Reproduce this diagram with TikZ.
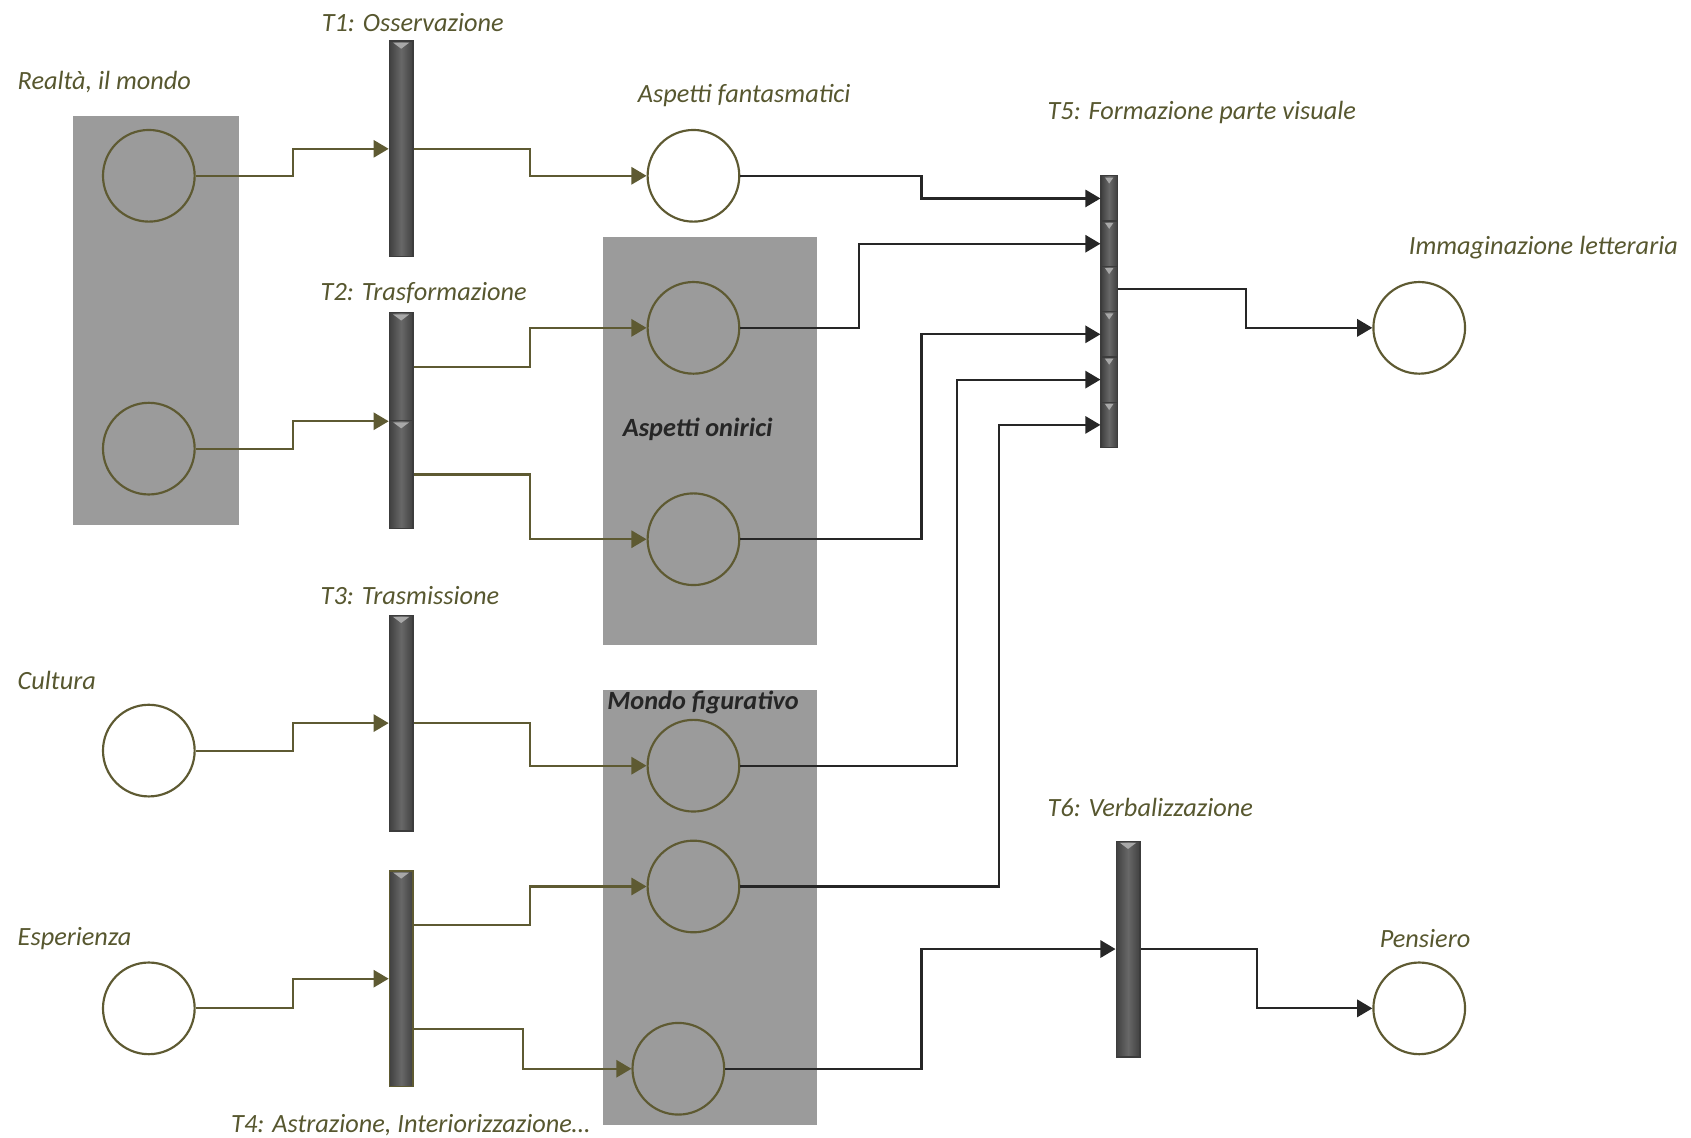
\documentclass[tikz,border=0pt]{standalone}
\usepackage{fontspec}
\setmainfont{Carlito}
\usepackage{xcolor}
\usepackage{tikz}
\usetikzlibrary{positioning,arrows.meta}
\definecolor{PNolive}{HTML}{5E5A32}
\definecolor{PNtext}{HTML}{57572F}
\definecolor{PNink}{HTML}{262626}
\definecolor{PNgray}{HTML}{9B9B9B}
\definecolor{PNbardark}{HTML}{404040}
\definecolor{PNbarmid}{HTML}{686868}
\definecolor{PNbarhi}{HTML}{A8A8A8}
\tikzset{
  place/.style={circle,draw=PNolive,line width=1pt,minimum size=42.5pt,inner sep=0pt},
  trans/.style={rectangle,draw=PNink!90,line width=0.6pt,minimum width=11pt,inner sep=0pt,
    left color=PNbardark,right color=PNbardark,middle color=PNbarmid,
    path picture={\fill[PNbarhi] ([xshift=1.8pt,yshift=-0.8pt]path picture bounding box.north west)
      -- ([xshift=-1.8pt,yshift=-0.8pt]path picture bounding box.north east)
      -- ([yshift=-3.6pt]path picture bounding box.north) -- cycle;}},
  tseg/.style={trans,minimum width=7.5pt,minimum height=21pt},
  grp/.style={fill=PNgray},
  lbl/.style={anchor=west,inner sep=0pt,text=PNtext,font=\itshape\fontsize{12.2}{14}\selectfont},
  grplbl/.style={inner sep=0pt,text=PNink,font=\bfseries\itshape\fontsize{12.2}{14}\selectfont},
  oarr/.style={draw=PNolive,line width=1pt,-{Triangle[length=7pt,width=8pt]}},
  karr/.style={draw=PNink,line width=1pt,-{Triangle[length=7pt,width=8pt]}}
}
\begin{document}
\begin{tikzpicture}[x=0.5pt,y=-0.5pt]
\useasboundingbox (0,0) rectangle (1568,1055);
\fill[grp] (68,108) rectangle (222,487);
\fill[grp] (559,220) rectangle (758,598);
\fill[grp] (559,640) rectangle (758,1043);

\node[place] (r1) at (138,163) {};
\node[place] (r2) at (138,416) {};
\node[place] (cu) at (138,696) {};
\node[place] (es) at (138,935) {};
\node[place] (af) at (643,163) {};
\node[place] (on1) at (643,304) {};
\node[place] (on2) at (643,500) {};
\node[place] (fg1) at (643,710) {};
\node[place] (fg2) at (643,822) {};
\node[place] (fg3) at (629,991) {};
\node[place,fill=white] (im) at (1316,304) {};
\node[place,fill=white] (pe) at (1316,935) {};

\node[trans,minimum height=100pt] (t1) at (372,138) {};
\node[trans,minimum height=50pt] (t2a) at (372,340) {};
\node[trans,minimum height=50pt] (t2b) at (372,440) {};
\node[trans,minimum height=100pt] (t3) at (372,670.5) {};
\node[trans,minimum height=100pt,draw=PNolive] (t4) at (372,907.5) {};
\node[tseg] (t5a) at (1028.5,184) {};
\node[tseg] (t5b) at (1028.5,226) {};
\node[tseg] (t5c) at (1028.5,268) {};
\node[tseg] (t5d) at (1028.5,310) {};
\node[tseg] (t5e) at (1028.5,352) {};
\node[tseg] (t5f) at (1028.5,394) {};
\node[trans,minimum height=100pt] (t6) at (1046,880) {};

\node[lbl] (lr) at (16,76) {Realtà, il mondo};
\node[lbl] (lt1) at (298,21) {T1: Osservazione};
\node[lbl] (laf) at (591,89) {Aspetti fantasmatici};
\node[lbl] (lt5) at (971,104) {T5: Formazione parte visuale};
\node[lbl] (lim) at (1306,230) {Immaginazione letteraria};
\node[lbl] (lt2) at (297,272) {T2: Trasformazione};
\node[lbl] (lt3) at (297,552) {T3: Trasmissione};
\node[lbl] (lcu) at (16,631) {Cultura};
\node[lbl] (lt6) at (971,749) {T6: Verbalizzazione};
\node[lbl] (les) at (16,870) {Esperienza};
\node[lbl] (lpe) at (1279,870) {Pensiero};
\node[lbl] (lt4) at (214,1043) {T4: Astrazione, Interiorizzazione…};
\node[grplbl] (lon) at (647,398) {Aspetti onirici};
\node[grplbl] (lfg) at (652,651) {Mondo figurativo};

\draw[oarr] (r1.east) -- ++(90,0) |- (t1.west);
\draw[oarr] (t1.east) -- ++(108,0) |- (af.west);
\draw[oarr] (r2.east) -- ++(90,0) |- (t2a.south west);
\draw[oarr] (t2a.east) -- ++(108,0) |- (on1.west);
\draw[oarr] (t2b.east) -- ++(108,0) |- (on2.west);
\draw[oarr] (cu.east) -- ++(90,0) |- (t3.west);
\draw[oarr] (t3.east) -- ++(108,0) |- (fg1.west);
\draw[oarr] (es.east) -- ++(90,0) |- (t4.west);
\draw[oarr] ([yshift=25pt]t4.east) -- ++(108,0) |- (fg2.west);
\draw[oarr] ([yshift=-23.5pt]t4.east) -- ++(101,0) |- (fg3.west);

\draw[karr] (af.east) -- ++(168,0) |- (t5a.west);
\draw[karr] (on1.east) -- ++(110,0) |- (t5b.west);
\draw[karr] (on2.east) -- ++(168,0) |- (t5d.west);
\draw[karr] (fg1.east) -- ++(201,0) |- (t5e.west);
\draw[karr] (fg2.east) -- ++(240,0) |- (t5f.west);
\draw[karr] (t5c.east) -- ++(119,0) |- (im.west);
\draw[karr] (fg3.east) -- ++(182,0) |- (t6.west);
\draw[karr] (t6.east) -- ++(108,0) |- (pe.west);
\end{tikzpicture}
\end{document}
